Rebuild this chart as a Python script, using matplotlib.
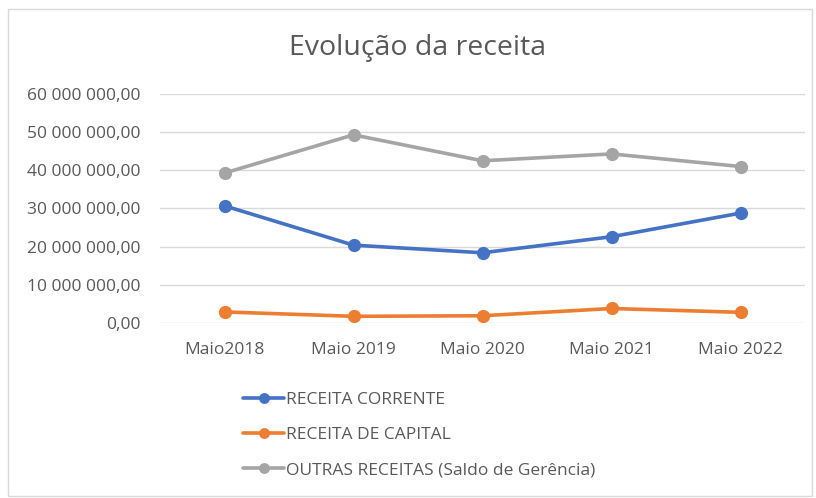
import matplotlib.pyplot as plt
from matplotlib.patches import Rectangle
from matplotlib.ticker import FuncFormatter

plt.rcParams['font.family'] = ['Open Sans', 'DejaVu Sans']

# dados
anos = ['Maio2018', 'Maio 2019', 'Maio 2020', 'Maio 2021', 'Maio 2022']
receita_corrente = [30.7e6, 20.4e6, 18.4e6, 22.6e6, 28.8e6]
receita_capital = [2.9e6, 1.75e6, 1.9e6, 3.8e6, 2.8e6]
outras_receitas = [39.3e6, 49.3e6, 42.5e6, 44.3e6, 41.0e6]

series = [
    ('RECEITA CORRENTE', receita_corrente, '#4472C4'),
    ('RECEITA DE CAPITAL', receita_capital, '#ED7D31'),
    ('OUTRAS RECEITAS (Saldo de Gerência)', outras_receitas, '#A5A5A5'),
]


def fmt_pt(v, pos):
    # formato português: espaço como separador de milhares, vírgula decimal
    s = f"{v:,.2f}"
    return s.replace(',', ' ').replace('.', ',')


fig = plt.figure(figsize=(8.16, 4.98), dpi=100)
ax = fig.add_axes([160 / 816, 1 - 323 / 498, 645 / 816, 229 / 498])

x = range(len(anos))
for nome, vals, cor in series:
    ax.plot(x, vals, color=cor, lw=2.6, marker='o', ms=8.5, label=nome,
            solid_capstyle='round')

ax.set_xlim(-0.5, len(anos) - 0.5)
ax.set_ylim(0, 60e6)
ax.set_yticks(range(0, 60000001, 10000000))
ax.yaxis.set_major_formatter(FuncFormatter(fmt_pt))
ax.set_xticks(list(x))
ax.set_xticklabels(anos)
ax.grid(axis='y', color='#D9D9D9', lw=1)
ax.set_axisbelow(True)
for s in ax.spines.values():
    s.set_visible(False)
ax.tick_params(length=0, labelsize=12.5, colors='#595959')
ax.tick_params(axis='y', pad=14)
ax.tick_params(axis='x', pad=14)

fig.text(418 / 816, 1 - 48 / 498, 'Evolução da receita', ha='center', va='center',
         fontsize=20.5, color='#595959')

leg = fig.legend(loc='upper left', bbox_to_anchor=(234 / 816, 1 - 383 / 498),
                 frameon=False, fontsize=12.5, labelspacing=1.1,
                 handlelength=2.4, handletextpad=0.1, borderpad=0,
                 markerscale=0.8)
for t in leg.get_texts():
    t.set_color('#595959')

# moldura do gráfico
fig.patches.append(Rectangle((8 / 816, 2 / 498), 804 / 816, 487 / 498,
                             transform=fig.transFigure, fill=False,
                             edgecolor='#D9D9D9', lw=1))

fig.savefig('out.png', dpi=100)
